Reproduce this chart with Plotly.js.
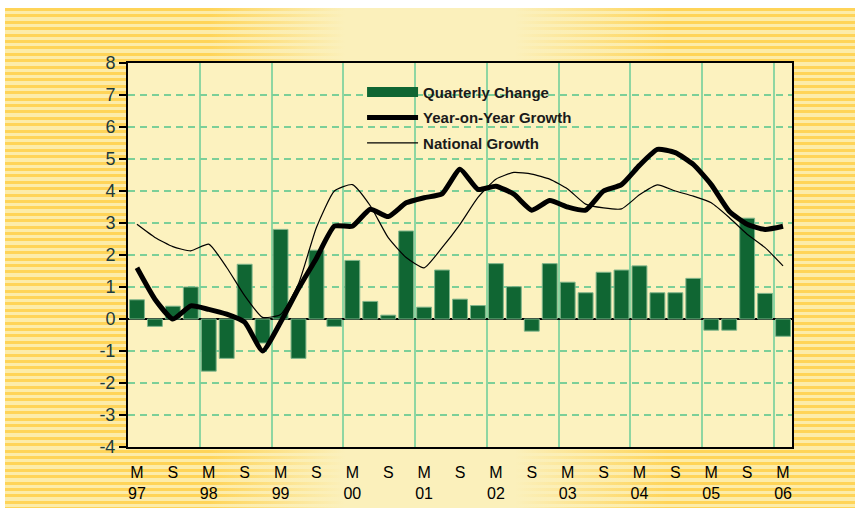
<!DOCTYPE html>
<html>
<head>
<meta charset="utf-8">
<script src="https://cdn.plot.ly/plotly-3.0.1.min.js"></script>
<style>
  html, body { margin: 0; padding: 0; background: #ffffff; }
  #wrap { position: relative; width: 855px; height: 515px; overflow: hidden; background: #ffffff; }
  #bg {
    position: absolute; left: 5px; top: 8px; width: 850px; height: 500px;
    background:
      linear-gradient(to right, rgba(251,240,187,0) 0%, rgba(251,240,187,0) 24%, rgba(251,240,187,1) 40%, rgba(251,240,187,1) 60%, rgba(251,240,187,0) 78%, rgba(251,240,187,0) 100%),
      repeating-linear-gradient(to bottom, #FFD458 0px, #FFD458 3px, #FCECAA 3px, #FCECAA 6.4px);
  }
  #chart { position: absolute; left: 0; top: 0; width: 855px; height: 515px; }
</style>
</head>
<body>
<div id="wrap">
  <div id="bg"></div>
  <div id="chart"></div>
</div>
<script>
// Quarters from March 1997 to March 2006
const quarters = [
  'Mar-97','Jun-97','Sep-97','Dec-97',
  'Mar-98','Jun-98','Sep-98','Dec-98',
  'Mar-99','Jun-99','Sep-99','Dec-99',
  'Mar-00','Jun-00','Sep-00','Dec-00',
  'Mar-01','Jun-01','Sep-01','Dec-01',
  'Mar-02','Jun-02','Sep-02','Dec-02',
  'Mar-03','Jun-03','Sep-03','Dec-03',
  'Mar-04','Jun-04','Sep-04','Dec-04',
  'Mar-05','Jun-05','Sep-05','Dec-05',
  'Mar-06'
];

const quarterlyChange = [
  0.6, -0.23, 0.4, 1.0,
  -1.63, -1.23, 1.71, -0.75,
  2.8, -1.23, 2.15, -0.23,
  1.83, 0.55, 0.12, 2.75,
  0.37, 1.53, 0.62, 0.42,
  1.73, 1.01, -0.38, 1.73,
  1.15, 0.82, 1.46, 1.53,
  1.66, 0.82, 0.82, 1.27,
  -0.35, -0.35, 3.15, 0.8,
  -0.54
];

const yearOnYear = [
  1.6, 0.62, 0.0, 0.41,
  0.3, 0.15, -0.1, -1.0,
  -0.1, 0.95, 1.9, 2.9,
  2.9, 3.43, 3.2, 3.63,
  3.79, 3.91, 4.68, 4.05,
  4.15, 3.9, 3.4, 3.7,
  3.5, 3.4, 4.0, 4.2,
  4.8, 5.3, 5.2, 4.83,
  4.2, 3.37, 2.96, 2.8,
  2.9
];

const nationalGrowth = [
  2.96, 2.55, 2.26, 2.13,
  2.34, 1.61, 0.73, 0.05,
  0.14, 1.1, 2.86, 4.0,
  4.2, 3.54, 2.54, 1.92,
  1.6, 2.23, 2.96, 3.8,
  4.37, 4.58, 4.53, 4.37,
  4.06, 3.59, 3.47, 3.44,
  3.88, 4.19, 4.0, 3.84,
  3.63, 3.17, 2.65, 2.23,
  1.66
];

// Tick labels shown every second quarter (March and September)
const tickQuarters = ['Mar-97','Sep-97','Mar-98','Sep-98','Mar-99','Sep-99','Mar-00','Sep-00','Mar-01','Sep-01','Mar-02','Sep-02','Mar-03','Sep-03','Mar-04','Sep-04','Mar-05','Sep-05','Mar-06'];
const tickLabels = ['M<br>97','S','M<br>98','S','M<br>99','S','M<br>00','S','M<br>01','S','M<br>02','S','M<br>03','S','M<br>04','S','M<br>05','S','M<br>06'];

// Y axis ticks (plain hyphen minus as in the original)
const yTickValues = [-4, -3, -2, -1, 0, 1, 2, 3, 4, 5, 6, 7, 8];
const yTickLabels = ['-4', '-3', '-2', '-1', '0', '1', '2', '3', '4', '5', '6', '7', '8'];

const xIdx = quarters.map((q, i) => i);
const tickIdx = tickQuarters.map(q => quarters.indexOf(q));

const barColor = '#106633';

const traces = [
  {
    type: 'bar', name: 'Quarterly Change', x: xIdx, y: quarterlyChange,
    marker: { color: barColor, line: { color: '#7fb58a', width: 1 } },
    showlegend: false
  },
  // legend entry for the bars, drawn as a wide block swatch (no data points)
  {
    type: 'scatter', mode: 'lines', name: 'Quarterly Change', x: [null], y: [null],
    line: { color: barColor, width: 12 },
    legendgroup: 'a', hoverinfo: 'skip'
  },
  {
    type: 'scatter', mode: 'lines', name: 'Year-on-Year Growth', x: xIdx, y: yearOnYear,
    line: { color: '#000000', width: 5, shape: 'spline', smoothing: 0.5 },
    legendgroup: 'b'
  },
  {
    type: 'scatter', mode: 'lines', name: 'National Growth', x: xIdx, y: nationalGrowth,
    line: { color: '#000000', width: 1.2, shape: 'spline', smoothing: 0.5 },
    legendgroup: 'c'
  }
];

const layout = {
  width: 855, height: 515,
  margin: { l: 128, r: 63, t: 63, b: 68 },
  paper_bgcolor: 'rgba(0,0,0,0)',
  plot_bgcolor: '#FCF2BF',
  font: { family: 'Arial, Liberation Sans, sans-serif', color: '#000' },
  bargap: 0.17,
  showlegend: true,
  legend: {
    x: 0.3525, y: 0.967, xanchor: 'left', yanchor: 'top',
    bgcolor: 'rgba(0,0,0,0)', borderwidth: 0,
    traceorder: 'grouped', tracegroupgap: 3,
    itemwidth: 51,
    font: { size: 15, color: '#1a1a1a', weight: 'bold', family: 'Arial, Liberation Sans, sans-serif' }
  },
  xaxis: {
    range: [-0.5, quarters.length - 0.5],
    tickmode: 'array', tickvals: tickIdx, ticktext: tickLabels,
    ticks: '', ticklabelstandoff: 10,
    tickfont: { size: 16, color: '#000' },
    showgrid: false, zeroline: false,
    showline: true, linecolor: '#000', linewidth: 2, mirror: true,
    minor: { tickmode: 'linear', tick0: 3.5, dtick: 4, showgrid: true, gridcolor: '#8ed6a2', gridwidth: 2, ticks: '' },
    fixedrange: true
  },
  yaxis: {
    range: [-4, 8],
    tickmode: 'array', tickvals: yTickValues, ticktext: yTickLabels,
    ticks: 'outside', ticklen: 7, tickcolor: '#000', tickwidth: 1.5,
    tickfont: { size: 18, color: '#1d3a3c' },
    showgrid: true, gridcolor: '#7ccf98', gridwidth: 1.5, griddash: '7px,5px',
    zeroline: true, zerolinecolor: '#000', zerolinewidth: 2,
    showline: true, linecolor: '#000', linewidth: 2, mirror: true,
    fixedrange: true
  }
};

Plotly.newPlot('chart', traces, layout, { displayModeBar: false, staticPlot: true });
</script>
</body>
</html>
